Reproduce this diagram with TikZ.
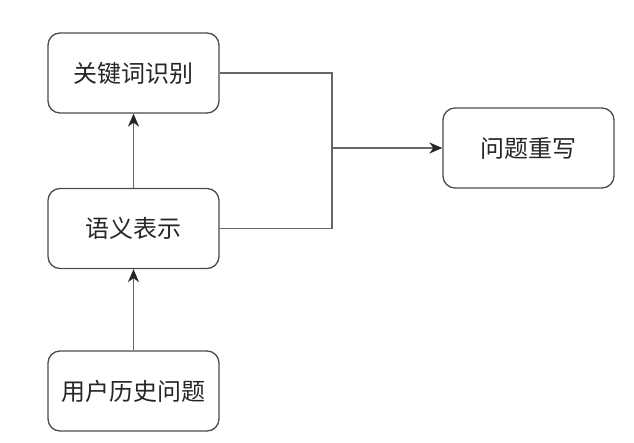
\documentclass[tikz,border=0pt]{standalone}
\usepackage{fontspec}
\setmainfont{Noto Sans CJK SC}
\usetikzlibrary{arrows.meta}
\begin{document}
\begin{tikzpicture}[x=1pt,y=-1pt,
  box/.style={draw=black!70,line width=1.3pt,rounded corners=12pt,minimum width=171pt,minimum height=80pt,inner sep=0pt,font=\fontsize{24}{28}\selectfont,text=black!85},
  conn/.style={draw=black!60,line width=1.5pt},
  arr/.style={conn,-{Stealth[length=13pt,width=11pt,inset=4pt,color=black!85,fill=black!85]}}]
\useasboundingbox (0,0) rectangle (634,443);
\node[box] (kw) at (133.5,73) {关键词识别};
\node[box] (sem) at (133.5,228.5) {语义表示};
\node[box] (hist) at (133.5,391) {用户历史问题};
\node[box] (rw) at (528.5,148) {问题重写};
\coordinate (j) at (332,148);
\draw[conn] (kw.east) -| (j);
\draw[conn] (sem.east) -| (j);
\draw[arr] (j) -- (rw.west);
\draw[arr] (sem.north) -- (kw.south);
\draw[arr] (hist.north) -- (sem.south);
\end{tikzpicture}
\end{document}
